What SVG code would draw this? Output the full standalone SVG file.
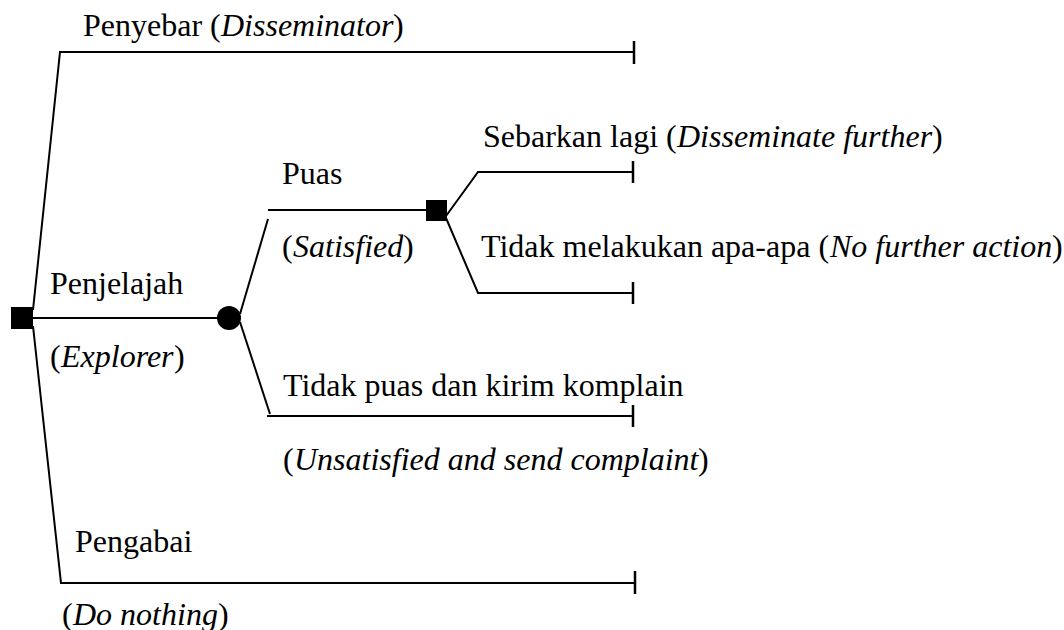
<svg xmlns="http://www.w3.org/2000/svg" width="1064" height="630" viewBox="0 0 1064 630">
<rect width="1064" height="630" fill="#fff"/>
<g id="connectors" stroke="#000" fill="none">
<path stroke-width="2" d="M33,310 L60,52 L634,52"/>
<path stroke-width="2.5" d="M634,41 V64"/>
<path stroke-width="2" d="M33,326 L61,583 L635,583"/>
<path stroke-width="2.5" d="M635,571 V594"/>
<path stroke-width="2" d="M33,318 H218"/>
<path stroke-width="2" d="M240,314 L268,219"/>
<path stroke-width="2" d="M268,210 H427"/>
<path stroke-width="2" d="M240,322 L270,414"/>
<path stroke-width="2" d="M267,416 H633"/>
<path stroke-width="2.5" d="M633,405 V427"/>
<path stroke-width="2" d="M446,216 L478,172 H633"/>
<path stroke-width="2.5" d="M633,161 V183"/>
<path stroke-width="2" d="M446,218 L478,293 H633"/>
<path stroke-width="2.5" d="M633,282 V304"/>
</g>
<g id="root"><rect x="11" y="307" width="22" height="22" fill="#000"/></g>
<g id="chance"><circle cx="229" cy="318" r="12" fill="#000"/></g>
<g id="decision2"><rect x="426" y="200" width="21" height="21" fill="#000"/></g>
<g id="disseminator">
<text x="83" y="36" font-family="Liberation Serif" font-size="32">Penyebar (</text>
<text x="221" y="36" font-family="Liberation Serif" font-size="32" font-style="italic">Disseminator</text>
<text x="393" y="36" font-family="Liberation Serif" font-size="32">)</text>
</g>
<g id="explorer">
<text x="50" y="294" font-family="Liberation Serif" font-size="32">Penjelajah</text>
<text x="50" y="367" font-family="Liberation Serif" font-size="32">(</text>
<text x="61" y="367" font-family="Liberation Serif" font-size="32" font-style="italic">Explorer</text>
<text x="174" y="367" font-family="Liberation Serif" font-size="32">)</text>
</g>
<g id="ignorer">
<text x="75" y="552" font-family="Liberation Serif" font-size="32">Pengabai</text>
<text x="62" y="625" font-family="Liberation Serif" font-size="32">(</text>
<text x="73" y="625" font-family="Liberation Serif" font-size="32" font-style="italic">Do nothing</text>
<text x="218" y="625" font-family="Liberation Serif" font-size="32">)</text>
</g>
<g id="satisfied">
<text x="282" y="184" font-family="Liberation Serif" font-size="32">Puas</text>
<text x="282" y="257" font-family="Liberation Serif" font-size="32">(</text>
<text x="293" y="257" font-family="Liberation Serif" font-size="32" font-style="italic">Satisfied</text>
<text x="403" y="257" font-family="Liberation Serif" font-size="32">)</text>
</g>
<g id="unsatisfied">
<text x="283" y="396" font-family="Liberation Serif" font-size="32">Tidak puas dan kirim komplain</text>
<text x="283" y="470" font-family="Liberation Serif" font-size="32">(</text>
<text x="294" y="470" font-family="Liberation Serif" font-size="32" font-style="italic">Unsatisfied and send complaint</text>
<text x="698" y="470" font-family="Liberation Serif" font-size="32">)</text>
</g>
<g id="further">
<text x="483" y="147" font-family="Liberation Serif" font-size="32">Sebarkan lagi (</text>
<text x="677" y="147" font-family="Liberation Serif" font-size="32" font-style="italic">Disseminate further</text>
<text x="932" y="147" font-family="Liberation Serif" font-size="32">)</text>
</g>
<g id="noaction">
<text x="481" y="257" font-family="Liberation Serif" font-size="32">Tidak melakukan apa-apa (</text>
<text x="830" y="257" font-family="Liberation Serif" font-size="32" font-style="italic">No further action</text>
<text x="1052" y="257" font-family="Liberation Serif" font-size="32">)</text>
</g>
</svg>
